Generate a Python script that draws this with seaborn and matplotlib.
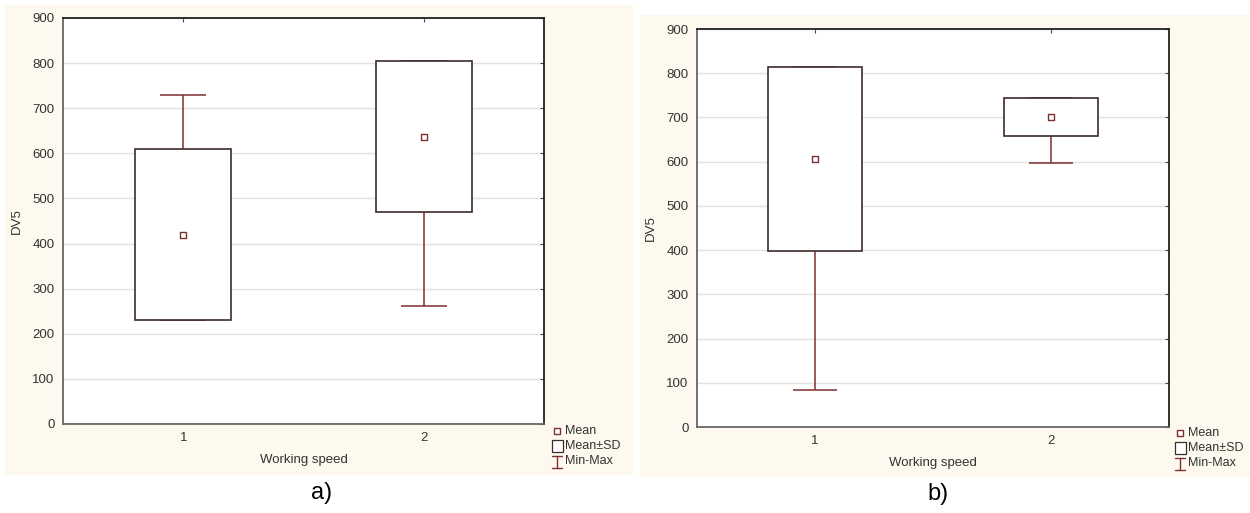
import matplotlib
matplotlib.use('Agg')
import matplotlib.pyplot as plt
import seaborn as sns
import pandas as pd
import numpy as np
from matplotlib.patches import Rectangle
from matplotlib.lines import Line2D

# values
speeds = [1, 2]
mean_a = [420, 637]
sd_a = [190, 168]
min_a = [230, 262]
max_a = [730, 805]

mean_b = [606, 700]
sd_b = [208, 43]
min_b = [83, 597]
max_b = [814, 743]

y_ticks = list(range(0, 1000, 100))
legend_labels = ['Mean', 'Mean±SD', 'Min-Max']

sns.set_style('white')
plt.rcParams['font.family'] = ['Liberation Sans', 'DejaVu Sans']

W, H = 1250, 513
fig = plt.figure(figsize=(W / 100, H / 100), dpi=100)

cream = '#fdf9ee'
box_edge = '#3d2b2b'
red = '#7e2f2f'
txt = '#333333'

# overlay in pixel coordinates for backgrounds, legends and panel labels
bg = fig.add_axes([0, 0, 1, 1], zorder=-1)
bg.set_xlim(0, W)
bg.set_ylim(H, 0)
bg.axis('off')
bg.add_patch(Rectangle((5, 5), 628, 470, facecolor=cream, edgecolor='none'))
bg.add_patch(Rectangle((640, 15), 610, 462, facecolor=cream, edgecolor='none'))


def px_axes(left, top, right, bottom):
    return fig.add_axes([left / W, 1 - bottom / H, (right - left) / W, (bottom - top) / H])


def panel(ax, mean, sd, vmin, vmax):
    df = pd.DataFrame({'speed': speeds, 'mean': mean, 'sd': sd, 'min': vmin, 'max': vmax})
    df['lo'] = df['mean'] - df['sd']
    ax.set_facecolor('white')
    # min-max whiskers
    ax.vlines(df['speed'], df['min'], df['max'], color=red, lw=1.1, zorder=2)
    ax.hlines(df['min'], df['speed'] - 0.095, df['speed'] + 0.095, color=red, lw=1.1, zorder=2)
    ax.hlines(df['max'], df['speed'] - 0.095, df['speed'] + 0.095, color=red, lw=1.1, zorder=2)
    # mean +- sd boxes
    ax.bar(df['speed'], 2 * df['sd'], bottom=df['lo'], width=0.4,
           facecolor='white', edgecolor=box_edge, lw=1.2, zorder=3)
    sns.scatterplot(data=df, x='speed', y='mean', marker='s', s=16, color='white',
                    edgecolor=red, linewidth=1, ax=ax, zorder=4, legend=False)
    ax.set_xlim(0.5, 2.5)
    ax.set_ylim(0, 900)
    ax.set_xticks(speeds)
    ax.set_xticklabels([str(s) for s in speeds])
    ax.set_yticks(y_ticks)
    ax.yaxis.grid(True, color='#e2e2e2', lw=1)
    ax.set_axisbelow(True)
    ax.tick_params(axis='both', direction='in', length=3, width=0.8, labelsize=9.5,
                   colors='#444444', labelcolor=txt, top=True, right=True, pad=6)
    for side in ['left', 'bottom']:
        ax.spines[side].set_color('#666666')
        ax.spines[side].set_linewidth(1.3)
    for side in ['top', 'right']:
        ax.spines[side].set_color('#222222')
        ax.spines[side].set_linewidth(1.3)
    ax.set_xlabel('Working speed', fontsize=9.5, color=txt, labelpad=7)
    ax.set_ylabel('DV5', fontsize=9.5, color=txt, labelpad=7)


def legend(x, y):
    bg.add_line(Line2D([x], [y], marker='s', ms=4, mfc='white', mec=red, mew=1, lw=0))
    bg.add_patch(Rectangle((x - 5, y + 9), 11, 12, facecolor='white', edgecolor=box_edge, lw=0.9))
    bg.plot([x, x], [y + 25, y + 37], color=red, lw=1)
    bg.plot([x - 5, x + 5], [y + 25, y + 25], color=red, lw=1)
    bg.plot([x - 5, x + 5], [y + 37, y + 37], color=red, lw=1)
    for i, lab in enumerate(legend_labels):
        bg.text(x + 8, y + i * 15, lab, fontsize=9, color=txt, va='center', ha='left')


ax_a = px_axes(63, 18, 544, 424)
panel(ax_a, mean_a, sd_a, min_a, max_a)
ax_b = px_axes(697, 29, 1169, 427)
panel(ax_b, mean_b, sd_b, min_b, max_b)

legend(557, 431)
legend(1180, 433)

bg.text(322, 493, 'a)', fontsize=17, ha='center', va='center', color='black')
bg.text(938, 494, 'b)', fontsize=17, ha='center', va='center', color='black')

fig.savefig('out.png', dpi=100)
